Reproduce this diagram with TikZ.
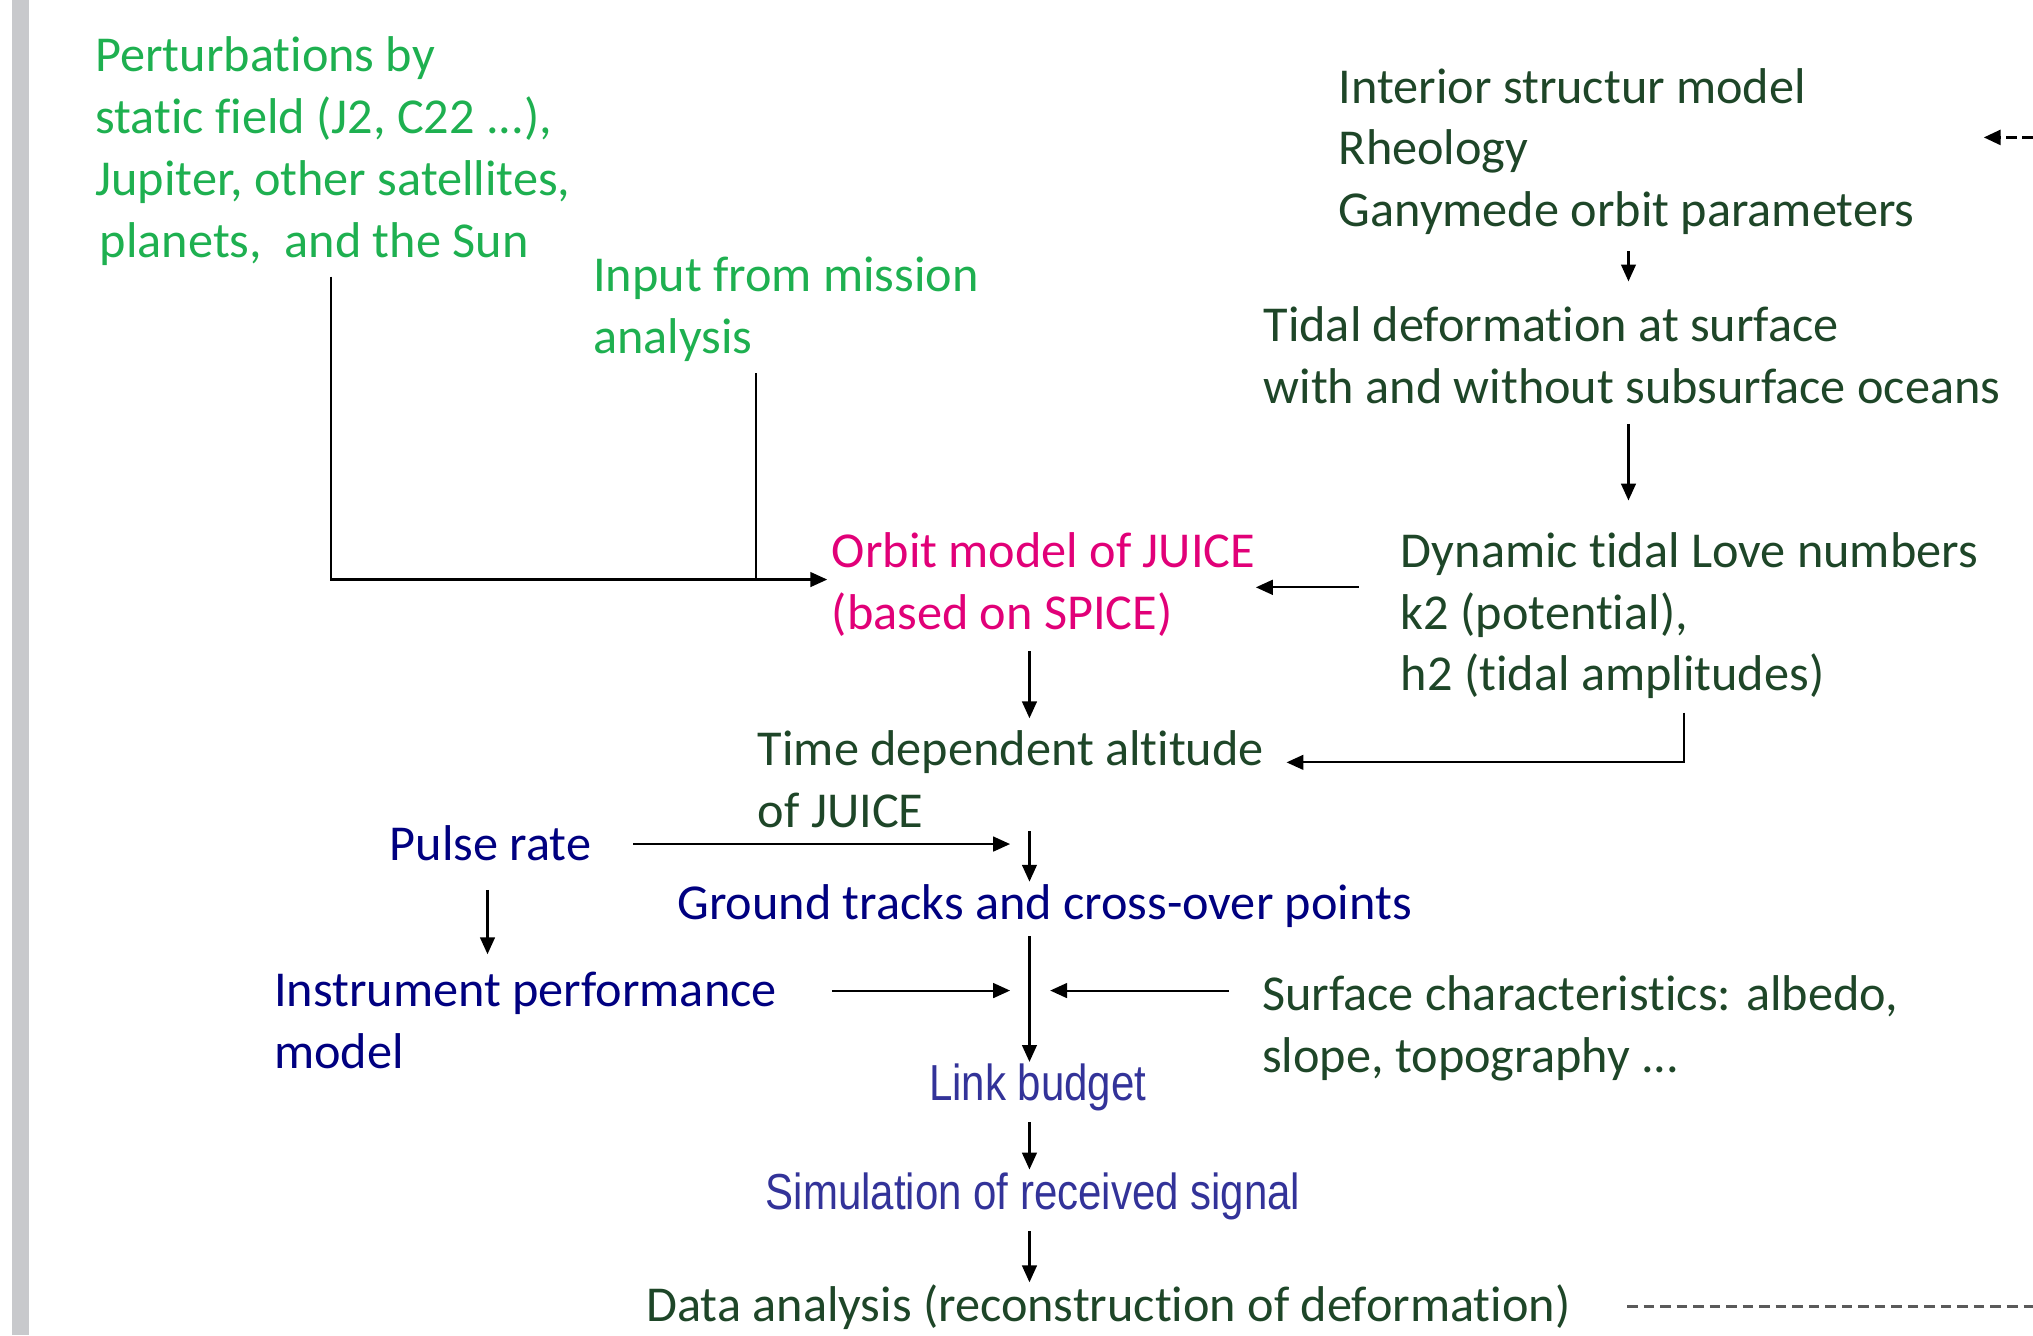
\documentclass[tikz,border=0pt]{standalone}
\usepackage{fontspec}
\setmainfont[Ligatures=NoCommon]{Carlito}
\newfontfamily\arialfont[FakeStretch=0.83]{Liberation Sans}
\usetikzlibrary{arrows.meta}
\definecolor{lgreen}{RGB}{30,176,80}
\definecolor{dgreen}{RGB}{30,70,40}
\definecolor{juice}{RGB}{225,0,120}
\definecolor{navy}{RGB}{0,0,128}
\definecolor{lbud}{RGB}{51,51,153}
\definecolor{bargray}{RGB}{200,201,204}
\definecolor{dashgray}{RGB}{90,90,90}
\tikzset{
  txt/.style   = {anchor=north west, inner sep=0, align=left, font=\fontsize{14.3}{17.6}\selectfont},
  arial/.style = {anchor=north west, inner sep=0, font=\arialfont\fontsize{14.4}{17}\selectfont},
  link/.style  = {line width=0.6pt, -{Triangle[length=4.8pt,width=4.2pt]}},
  plain/.style = {line width=0.6pt},
  dsh/.style   = {line width=0.9pt, dash pattern=on 3pt off 1.7pt}
}

\begin{document}
\begin{tikzpicture}[x=0.12966mm, y=-0.12966mm]
  \useasboundingbox (0,0) rectangle (1568,1030);
  \fill[bargray] (9,0) rectangle (22,1030);

  % text blocks
  \node[txt, lgreen] (pert)  at (73,28)   {Perturbations by\\static field (J2, C22 ...),\\Jupiter, other satellites,\\\hspace{1.3pt}planets,\ \ and the Sun};
  \node[txt, lgreen] (input) at (457,198) {Input from mission\\analysis};
  \node[txt, dgreen] (inter) at (1032,52) {Interior structur model\\Rheology\\Ganymede orbit parameters};
  \node[txt, dgreen] (tidal) at (974,236) {Tidal deformation at surface\\with and without subsurface oceans};
  \node[txt, juice]  (orbit) at (641,410) {Orbit model of JUICE\\(based on SPICE)};
  \node[txt, dgreen] (love)  at (1080,410){Dynamic tidal Love numbers\\k2 (potential),\\h2 (tidal amplitudes)};
  \node[txt, dgreen] (alt)   at (584,563) {Time dependent altitude\\of JUICE};
  \node[txt, navy]   (pulse) at (300,636) {Pulse rate};
  \node[txt, navy]   (grnd)  at (522,682) {Ground tracks and cross-over points};
  \node[txt, navy]   (instr) at (211,749) {Instrument performance\\model};
  \node[txt, dgreen] (surf)  at (973,752) {Surface characteristics: albedo,\\slope, topography ...};
  \node[arial, lbud] (lbdg)  at (716,820) {Link budget};
  \node[arial, lbud] (simu)  at (590,904) {Simulation of received signal};
  \node[txt, dgreen] (data)  at (498,990) {Data analysis (reconstruction of deformation)};

  % columns and rows for the connectors
  \coordinate (col)  at (794,0);
  \coordinate (pcol) at (255,0);
  \coordinate (icol) at (583,0);
  \coordinate (tcol) at (1256,0);
  \coordinate (lcol) at (1299,0);
  \coordinate (ucol) at (376,0);
  \coordinate (orow) at (0,447);
  \coordinate (krow) at (0,453);
  \coordinate (arow) at (0,588);
  \coordinate (prow) at (0,651);
  \coordinate (mrow) at (0,764);
  \coordinate (redge) at (1568,0);
  \coordinate (fbin)  at (1568,106);
  \coordinate (fbout) at (1530,106);

  % connectors
  \draw[link, shorten <=1.04mm, shorten >=0.39mm] (pert.south -| pcol) -- (pcol |- orow) -- (orbit.west |- orow);
  \draw[plain, shorten <=1.04mm] (input.south -| icol) -- (icol |- orow);
  \draw[link, shorten <=1.56mm, shorten >=2.46mm] (inter.south -| tcol) -- (tidal.north -| tcol);
  \draw[link, shorten <=1.94mm, shorten >=3.11mm] (tidal.south -| tcol) -- (love.north -| tcol);
  \draw[link, shorten <=4.15mm] (love.west |- krow) -- (orbit.east |- krow);
  \draw[link, shorten <=1.43mm, shorten >=1.17mm] (orbit.south -| col) -- (alt.north -| col);
  \draw[link, shorten <=1.30mm, shorten >=2.20mm] (love.south -| lcol) -- (lcol |- arow) -- (alt.east |- arow);
  \draw[link, shorten <=4.15mm, shorten >=1.94mm] (pulse.east |- prow) -- (col |- prow);
  \draw[link, shorten <=0.26mm, shorten >=0.26mm] (alt.south -| col) -- (grnd.north -| col);
  \draw[link, shorten <=2.85mm, shorten >=1.69mm] (pulse.south -| ucol) -- (instr.north -| ucol);
  \draw[link, shorten <=0.78mm, shorten >=0.13mm] (grnd.south -| col) -- (lbdg.north -| col);
  \draw[link, shorten <=5.45mm, shorten >=1.94mm] (instr.east |- mrow) -- (col |- mrow);
  \draw[link, shorten <=3.24mm, shorten >=2.07mm] (surf.west |- mrow) -- (col |- mrow);
  \draw[link, shorten <=1.04mm, shorten >=0.26mm] (lbdg.south -| col) -- (simu.north -| col);
  \draw[link, shorten <=1.04mm, shorten >=0.13mm] (simu.south -| col) -- (data.north -| col);
  \draw[dsh, dashgray, shorten <=5.58mm] (data.east) -- (data.east -| redge);
  \draw[link, dsh] (fbin) -- (fbout);
\end{tikzpicture}
\end{document}
